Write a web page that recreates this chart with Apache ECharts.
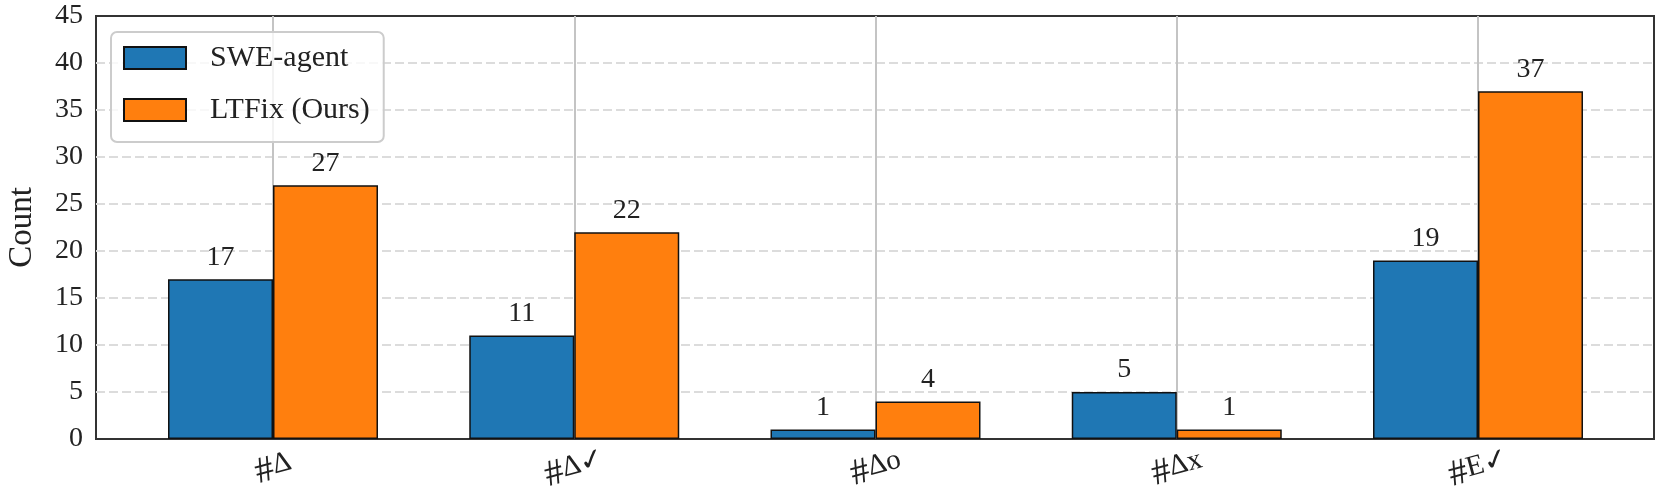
<!DOCTYPE html>
<html>
<head>
<meta charset="utf-8">
<script src="https://cdn.jsdelivr.net/npm/echarts@6/dist/echarts.min.js"></script>
<style>
  html, body { margin: 0; padding: 0; background: #fff; }
  #chart { width: 1661px; height: 491px; }
</style>
</head>
<body>
<div id="chart"></div>
<script>
// data
const categories = ['#Δ', '#Δ✓', '#Δo', '#Δx', '#E✓'];
const sweAgent = [17, 11, 1, 5, 19];
const ltfix = [27, 22, 4, 1, 37];
const yMin = 0, yMax = 45, yStep = 5;

const serif = 'Liberation Serif';
const textColor = '#222';

let chart = echarts.init(document.getElementById('chart'));

let option = {
  animation: false,
  grid: [
    // frame + y axis
    { left: 96, right: 7, top: 16, bottom: 52, outerBoundsMode: 'none', show: true, borderColor: '#333', borderWidth: 2, backgroundColor: 'transparent' },
    // bars, categories centred like matplotlib
    { left: 273, right: 183, top: 16, bottom: 52, outerBoundsMode: 'none' }
  ],
  legend: {
    data: ['SWE-agent', 'LTFix (Ours)'],
    orient: 'vertical',
    left: 111,
    top: 32,
    icon: 'rect',
    itemWidth: 62,
    itemHeight: 22,
    itemGap: 22,
    padding: [11, 14, 17, 12],
    backgroundColor: 'rgba(255,255,255,0.8)',
    borderColor: '#cccccc',
    borderWidth: 2,
    borderRadius: 6,
    textStyle: {
      fontFamily: serif,
      fontSize: 30,
      color: textColor,
      lineHeight: 22,
      padding: [0, 0, 0, 19]
    }
  },
  xAxis: [
    { type: 'value', gridIndex: 0, show: false, min: 0, max: 1 },
    {
      type: 'category',
      gridIndex: 1,
      data: categories,
      boundaryGap: false,
      axisLine: { show: false },
      axisTick: { show: false },
      splitLine: { show: true, lineStyle: { color: '#c4c4c4', width: 2 } },
      axisLabel: {
        margin: 12,
        rotate: 15,
        align: 'center',
        verticalAlign: 'top',
        padding: [0, 8, 0, 0],
        formatter: function (v) {
          return '{h|#}{s|' + v.slice(1) + '}';
        },
        rich: {
          h: { fontFamily: serif, fontSize: 37, color: textColor, lineHeight: 35 },
          s: { fontFamily: serif, fontSize: 29, color: textColor, verticalAlign: 'top', lineHeight: 23 }
        }
      }
    }
  ],
  yAxis: [
    {
      type: 'value',
      gridIndex: 0,
      min: yMin,
      max: yMax,
      interval: yStep,
      name: 'Count',
      nameLocation: 'middle',
      nameRotate: 90,
      nameGap: 57,
      nameTextStyle: { fontFamily: serif, fontSize: 33, color: textColor },
      axisLine: { show: false },
      axisTick: { show: false },
      axisLabel: { margin: 13, fontFamily: serif, fontSize: 28, color: textColor },
      splitLine: {
        show: true,
        showMinLine: false,
        showMaxLine: false,
        lineStyle: { color: '#dcdcdc', width: 2, type: [9, 4] }
      }
    },
    { type: 'value', gridIndex: 1, min: yMin, max: yMax, interval: yStep, show: false }
  ],
  series: [
    {
      name: 'SWE-agent',
      type: 'bar',
      xAxisIndex: 1,
      yAxisIndex: 1,
      data: sweAgent,
      barWidth: 105,
      barGap: '0%',
      clip: false,
      itemStyle: { color: '#1f77b4', borderColor: '#111', borderWidth: 1.5 },
      label: { show: true, position: 'top', distance: 8, fontFamily: serif, fontSize: 28, color: textColor }
    },
    {
      name: 'LTFix (Ours)',
      type: 'bar',
      xAxisIndex: 1,
      yAxisIndex: 1,
      data: ltfix,
      barWidth: 105,
      barGap: '0%',
      clip: false,
      itemStyle: { color: '#ff7f0e', borderColor: '#111', borderWidth: 1.5 },
      label: { show: true, position: 'top', distance: 8, fontFamily: serif, fontSize: 28, color: textColor }
    }
  ]
};

chart.setOption(option);
</script>
</body>
</html>
